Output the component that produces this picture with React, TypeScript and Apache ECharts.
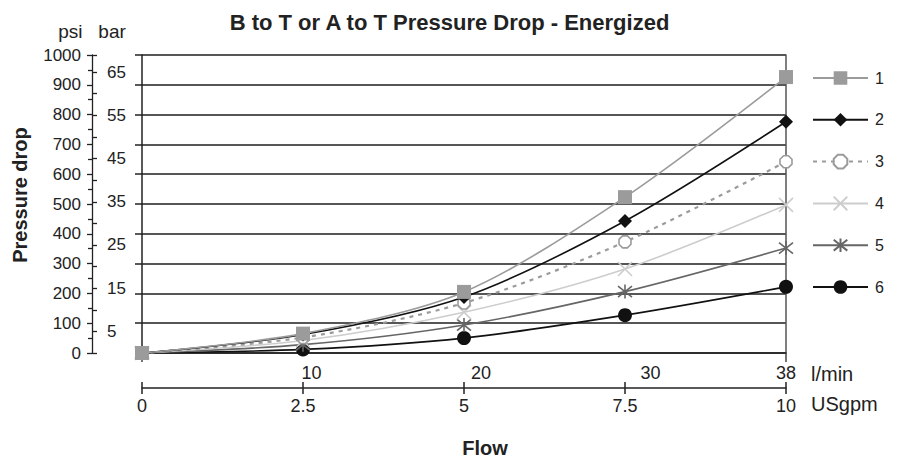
import React, { useEffect, useRef } from "react";
import * as echarts from "echarts";

// ---- data ----
const flowGpm = [0, 2.5, 5, 7.5, 10];
const seriesNames = ["1", "2", "3", "4", "5", "6"];
const drop1 = [0, 65, 205, 523, 926];
const drop2 = [0, 62, 188, 443, 776];
const drop3 = [0, 52, 168, 373, 642];
const drop4 = [0, 42, 137, 282, 497];
const drop5 = [0, 28, 94, 206, 352];
const drop6 = [0, 12, 50, 127, 222];
const psiMax = 1000;
const psiStep = 100;
const psiPerBar = 14.5;
const barLabels = [5, 15, 25, 35, 45, 55, 65];
const gpmLabels = [0, 2.5, 5, 7.5, 10];
const lpmLabels = [10, 20, 30, 38];
const lpmMax = 38;

const FONT = "'Liberation Sans', Arial, sans-serif";
const INK = "#222";
const CLEAR = "rgba(0,0,0,0)";

const OCTAGON = "path://M3,0L7,0L10,3L10,7L7,10L3,10L0,7L0,3Z";
const CROSS = "path://M0,0L10,10M10,0L0,10";
const STAR = "path://M0,1L10,9M10,1L0,9M5,0L5,10";

export default function App() {
  const ref = useRef<HTMLDivElement>(null);

  useEffect(() => {
    if (!ref.current) return;
    const chart = echarts.init(ref.current, null, { renderer: "svg" });
    const all = [drop1, drop2, drop3, drop4, drop5, drop6];
    const styles = [
      { line: "#9b9b9b", symbol: "rect", size: 14, fill: "#9b9b9b", border: "#9b9b9b", bw: 0, type: "solid", w: 1.6 },
      { line: "#111", symbol: "diamond", size: 14, fill: "#111", border: "#111", bw: 0, type: "solid", w: 1.6 },
      { line: "#9b9b9b", symbol: OCTAGON, size: 12, fill: "#fff", border: "#9b9b9b", bw: 1.6, type: [4, 5], w: 2.2 },
      { line: "#cdcdcd", symbol: CROSS, size: 14, fill: CLEAR, border: "#cdcdcd", bw: 1.6, type: "solid", w: 1.6 },
      { line: "#666", symbol: STAR, size: 14, fill: CLEAR, border: "#666", bw: 1.6, type: "solid", w: 1.6 },
      { line: "#111", symbol: "circle", size: 14, fill: "#111", border: "#111", bw: 0, type: "solid", w: 1.6 },
    ];
    const series = all.map((vals, i) => {
      const s = styles[i];
      return {
        name: seriesNames[i],
        type: "line",
        xAxisIndex: 0,
        yAxisIndex: 0,
        smooth: 0.3,
        symbol: s.symbol,
        symbolSize: s.size,
        showAllSymbol: true,
        data: vals.map((v, k) => [flowGpm[k], v]),
        lineStyle: { color: s.line, width: s.w, type: s.type },
        itemStyle: { color: s.fill, borderColor: s.border, borderWidth: s.bw },
        emphasis: { disabled: true },
        z: 10 - i,
      };
    });

    const axisLineDark = { show: true, onZero: false, lineStyle: { color: INK, width: 1.5 } };
    const axisLineClear = { show: true, onZero: false, lineStyle: { color: CLEAR, width: 0 } };
    const tickLabelStyle = { color: INK, fontSize: 17, fontFamily: FONT };

    chart.setOption({
      animation: false,
      textStyle: { fontFamily: FONT },
      title: {
        text: "B to T or A to T Pressure Drop - Energized",
        left: "center",
        top: 6,
        textStyle: { fontSize: 22, fontWeight: "bold", color: INK, fontFamily: FONT },
      },
      legend: {
        orient: "vertical",
        left: 807,
        top: 65,
        itemWidth: 55,
        itemHeight: 17,
        itemGap: 25.8,
        data: seriesNames,
        textStyle: { fontSize: 16, color: INK, fontFamily: FONT, padding: [0, 0, 0, 2] },
        selectedMode: false,
      },
      grid: { left: 142, top: 55, width: 644, height: 298, containLabel: false },
      xAxis: [
        {
          type: "value", position: "bottom", offset: 0, min: 0, max: 10,
          axisLine: axisLineDark,
          axisTick: { show: true, customValues: [0, 10], length: 9, lineStyle: { color: "#444", width: 1.5 } },
          axisLabel: { show: false },
          splitLine: { show: false },
        },
        {
          type: "value", position: "bottom", offset: 35, min: 0, max: 10, interval: 2.5,
          axisLine: axisLineDark,
          axisTick: { show: true, length: 6, lineStyle: { color: INK, width: 1.5 } },
          axisLabel: { show: true, customValues: gpmLabels, margin: 9, color: INK, fontSize: 18, fontFamily: FONT },
          splitLine: { show: false },
          name: "USgpm", nameLocation: "end", nameGap: 25,
          nameTextStyle: { fontSize: 20, color: INK, fontFamily: FONT, verticalAlign: "top", lineHeight: 20, padding: [6, 0, 0, 0] },
        },
        {
          type: "value", position: "bottom", offset: 35, min: 0, max: 10, interval: 2.5,
          axisLine: axisLineClear,
          axisTick: { show: true, inside: true, length: 6, lineStyle: { color: INK, width: 1.5 } },
          axisLabel: { show: false },
          splitLine: { show: false },
        },
        {
          type: "value", position: "bottom", offset: 35, min: 0, max: lpmMax,
          axisLine: axisLineClear,
          axisTick: { show: false },
          axisLabel: { show: true, inside: true, customValues: lpmLabels, margin: 6, color: INK, fontSize: 18, fontFamily: FONT },
          splitLine: { show: false },
          name: "l/min", nameLocation: "end", nameGap: 25,
          nameTextStyle: { fontSize: 20, color: INK, fontFamily: FONT, verticalAlign: "bottom", lineHeight: 20, padding: [0, 0, 4, 0] },
        },
      ],
      yAxis: [
        {
          type: "value", position: "left", offset: 0, min: 0, max: psiMax, interval: psiStep,
          axisLine: axisLineDark,
          axisTick: { show: true, length: 7, lineStyle: { color: INK, width: 1.5 } },
          axisLabel: { show: false },
          splitLine: { show: true, lineStyle: { color: "#1e1e1e", width: 1.6 } },
        },
        {
          type: "value", position: "left", offset: 50, min: 0, max: psiMax, interval: psiStep,
          axisLine: { show: true, onZero: false, lineStyle: { color: INK, width: 1.3 } },
          axisTick: { show: true, length: 5, lineStyle: { color: INK, width: 1.3 } },
          minorTick: { show: true, splitNumber: 2, length: 4, lineStyle: { color: INK, width: 1.3 } },
          axisLabel: { show: true, margin: 11, formatter: (v: number) => String(v), ...tickLabelStyle },
          splitLine: { show: false },
          name: "psi   bar", nameLocation: "end", nameGap: 14,
          nameTextStyle: { fontSize: 19, color: INK, fontFamily: FONT, align: "center" },
        },
        {
          type: "value", position: "left", offset: 50, min: 0, max: psiMax / psiPerBar, interval: 5,
          axisLine: axisLineClear,
          axisTick: { show: true, inside: true, length: 5, lineStyle: { color: INK, width: 1.3 } },
          axisLabel: { show: true, inside: true, customValues: barLabels, margin: 15, padding: [8, 0, 0, 0], ...tickLabelStyle },
          splitLine: { show: false },
        },
        {
          type: "value", position: "right", offset: 0, min: 0, max: psiMax,
          axisLine: { show: true, onZero: false, lineStyle: { color: "#555", width: 1.5 } },
          axisTick: { show: false },
          axisLabel: { show: false },
          splitLine: { show: false },
        },
      ],
      graphic: [
        {
          type: "text", x: 20, y: 195, rotation: Math.PI / 2,
          style: { text: "Pressure drop", font: `bold 20px ${FONT}`, fill: INK, align: "center", verticalAlign: "middle" },
        },
        {
          type: "text", x: 485, y: 448,
          style: { text: "Flow", font: `bold 20px ${FONT}`, fill: INK, align: "center", verticalAlign: "middle" },
        },
      ],
      series,
    });
    return () => chart.dispose();
  }, []);

  return (
    <div
      ref={ref}
      style={{ position: "absolute", left: 0, top: 0, width: 899, height: 458, background: "#fff" }}
    />
  );
}
